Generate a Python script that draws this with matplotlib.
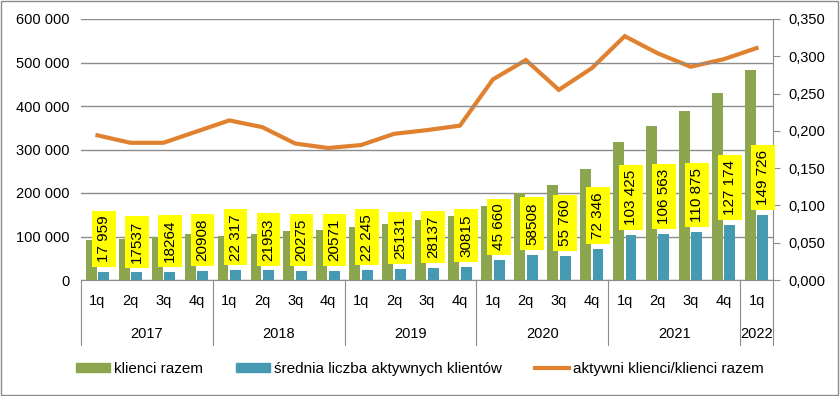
import matplotlib
matplotlib.use("Agg")
import matplotlib.pyplot as plt
from matplotlib.patches import Rectangle
from matplotlib.lines import Line2D
import numpy as np

plt.rcParams['font.family'] = ['Liberation Sans Narrow', 'Liberation Sans', 'DejaVu Sans']

quarters = ['1q', '2q', '3q', '4q'] * 5 + ['1q']
years = ['2017', '2018', '2019', '2020', '2021', '2022']
year_counts = [4, 4, 4, 4, 4, 1]

klienci_razem = [91000, 95000, 99000, 105000, 102000, 106000, 112000, 116000,
                 121000, 128000, 139000, 148000, 169000, 201000, 218000, 255000,
                 317000, 354000, 389000, 430000, 483000]
aktywni = [17959, 17537, 18264, 20908, 22317, 21953, 20275, 20571,
           22245, 25131, 28137, 30815, 45660, 58508, 55760, 72346,
           103425, 106563, 110875, 127174, 149726]
aktywni_labels = ['17 959', '17537', '18264', '20908', '22 317', '21953', '20275', '20571',
                  '22 245', '25131', '28137', '30815', '45 660', '58508', '55 760', '72 346',
                  '103 425', '106 563', '110 875', '127 174', '149 726']
ratio = [0.194, 0.184, 0.184, 0.199, 0.214, 0.205, 0.183, 0.177, 0.181, 0.196,
         0.201, 0.207, 0.269, 0.295, 0.255, 0.284, 0.327, 0.304, 0.286, 0.296, 0.311]

green = '#8CA64F'
blue = '#4599B0'
orange = '#E0812F'
grid_c = '#8C8C8C'

fig = plt.figure(figsize=(8.4, 3.96), dpi=100)
ax = fig.add_axes([81/840, 1-280/396, (773-81)/840, (280-19)/396])
ax2 = ax.twinx()

n = len(klienci_razem)
x = np.arange(n)
w = 0.33
off = 0.19
ax.bar(x - off, klienci_razem, w, color=green, zorder=2)
ax.bar(x + off, aktywni, w, color=blue, zorder=2)

ax.set_xlim(-0.5, n - 0.5)
ax.set_ylim(0, 600000)
ax.set_yticks(np.arange(0, 600001, 100000))
ax.set_yticklabels(['0'] + [f'{v//1000} 000' for v in range(100000, 600001, 100000)])
ax.grid(axis='y', color=grid_c, linewidth=1, zorder=0)
ax.set_axisbelow(True)
for s in ['top', 'left', 'right']:
    ax.spines[s].set_visible(False)
ax.spines['bottom'].set_color(grid_c)
ax.tick_params(axis='y', length=0, labelsize=10.5, pad=8)
ax.tick_params(axis='x', length=0, labelbottom=False)

ax2.set_ylim(0, 0.35)
ax2.set_yticks(np.arange(0, 0.351, 0.05))
ax2.set_yticklabels([f'{v:.3f}'.replace('.', ',') for v in np.arange(0, 0.351, 0.05)])
for s in ['top', 'left', 'bottom']:
    ax2.spines[s].set_visible(False)
ax2.spines['right'].set_color(grid_c)
ax2.tick_params(axis='y', length=5, color=grid_c, labelsize=10.5, pad=6)
ax2.plot(x, ratio, color=orange, linewidth=3, solid_joinstyle='miter', zorder=3)

# data labels on the blue bars
for xi, v, lab in zip(x, aktywni, aktywni_labels):
    ax.annotate(lab, (xi + off, v), xytext=(0, 7), textcoords='offset points',
                ha='center', va='bottom', rotation=90, fontsize=11, zorder=5,
                bbox=dict(boxstyle='square,pad=0.32', fc='#FFFF00', ec='none'),
                annotation_clip=False)
ax.set_zorder(ax2.get_zorder() + 1)
ax.patch.set_visible(False)

# category axis: quarters and years
for xi, q in zip(x, quarters):
    ax.text(xi, -0.08, q, transform=ax.get_xaxis_transform(), ha='center', va='center',
            fontsize=10.5)
start = 0
bounds = [0]
for yname, c in zip(years, year_counts):
    ax.text(start + c / 2 - 0.5, -0.205, yname, transform=ax.get_xaxis_transform(),
            ha='center', va='center', fontsize=10.5)
    start += c
    bounds.append(start)
for b in bounds:
    ax.add_line(Line2D([b - 0.5, b - 0.5], [0, -0.25], transform=ax.get_xaxis_transform(),
                       color=grid_c, linewidth=0.8, clip_on=False))

# legend
handles = [Rectangle((0, 0), 1, 1, color=green),
           Rectangle((0, 0), 1, 1, color=blue),
           Line2D([0], [0], color=orange, linewidth=3)]
fig.legend(handles, ['klienci razem', 'średnia liczba aktywnych klientów',
                     'aktywni klienci/klienci razem'],
           loc='center', bbox_to_anchor=(0.5, 1 - 369/396), ncol=3, frameon=False,
           fontsize=11, handlelength=2.2, handleheight=0.55, columnspacing=2.2,
           handletextpad=0.25)

fig.add_artist(Rectangle((0.001, 0.002), 0.997, 0.995, transform=fig.transFigure,
                         fill=False, ec='#8C8C8C', lw=1))

fig.savefig('out.png', dpi=100)
